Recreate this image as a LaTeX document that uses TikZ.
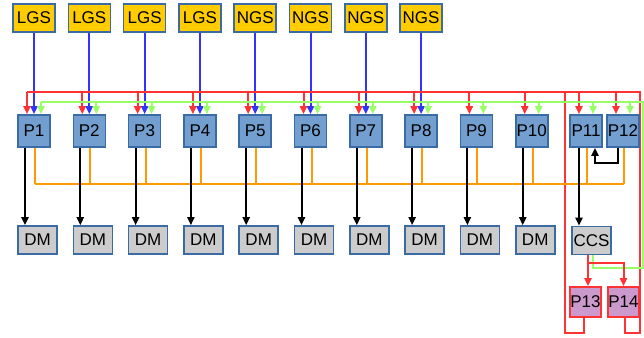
\documentclass[tikz,border=0pt]{standalone}
\usepackage{fontspec}
\setmainfont{Liberation Sans}
\usetikzlibrary{arrows.meta,backgrounds}

\definecolor{gsyel}{HTML}{FFCC00}
\definecolor{boxbl}{HTML}{3A6BA5}
\definecolor{pblue}{HTML}{729FCF}
\definecolor{dmgr}{HTML}{CCCCCC}
\definecolor{ppink}{HTML}{CC99CC}
\definecolor{lred}{HTML}{FF3333}
\definecolor{lgreen}{HTML}{99FF66}
\definecolor{lblue}{HTML}{3333FF}
\definecolor{lorange}{HTML}{FF9900}

\begin{document}
\begin{tikzpicture}[x=1pt,y=-1pt,
    box/.style={draw=boxbl,line width=1.6pt,inner sep=0pt,font=\fontsize{17}{17}\selectfont},
    gs/.style={box,fill=gsyel,minimum width=42pt,minimum height=28pt},
    proc/.style={box,fill=pblue,minimum width=32pt,minimum height=32pt},
    dm/.style={box,fill=dmgr,minimum width=39pt,minimum height=28pt},
    pp/.style={box,draw=lred,fill=ppink,minimum width=31pt,minimum height=30pt},
    wire/.style={line width=2pt},
    tip/.style={-{Triangle[length=8pt,width=7pt]}}]
        \useasboundingbox (0,0) rectangle (644,337);
        % sources
        \foreach \i/\t in {1/LGS,2/LGS,3/LGS,4/LGS,5/NGS,6/NGS,7/NGS,8/NGS}
            \node[gs] (g\i) at ({34+55.3*(\i-1)},18) {\t};
        % processors
        \foreach \i in {1,...,10}
            \node[proc] (p\i) at ({34+55.3*(\i-1)},131) {P\i};
        \node[proc] (p11) at (586,131) {P11};
        \node[proc] (p12) at (623,131) {P12};
        \foreach \i in {1,...,10}
            \node[dm] (d\i) at ({37.5+55.3*(\i-1)},240) {DM};
        \node[dm] (ccs) at (591.5,240.5) {CCS};
        \node[pp] (p13) at (585.5,302) {P13};
        \node[pp] (p14) at (623.5,302) {P14};
        % bus levels
        \coordinate (rtop) at (0,92);
        \coordinate (gtop) at (0,102);
        \coordinate (obus) at (0,184);
        \coordinate (r13) at (565,333);
        \coordinate (r14) at (640,333);
        \coordinate (gr) at (643,268);
        \begin{scope}[on background layer]
        \foreach \i in {1,...,8}
            \draw[wire,lblue,tip] (g\i) -- (p\i);
        % red feedback
        \draw[wire,lred] ([xshift=-2pt]p13.south) |- (r13) -- (r13 |- rtop);
        \draw[wire,lred] ([xshift=1pt]p14.south) |- (r14) -- (r14 |- rtop) -- ([xshift=-7pt]p1.north |- rtop);
        \foreach \i in {1,...,12}
            \draw[wire,lred,tip] ([xshift=-7pt]p\i.north |- rtop) -- ([xshift=-7pt]p\i.north);
        % green feedback
        \draw[wire,lgreen] ([xshift=1pt]ccs.south) |- (gr) -- (gr |- gtop) -- ([xshift=7pt]p1.north |- gtop);
        \foreach \i in {1,...,12}
            \draw[wire,lgreen,tip] ([xshift=7pt]p\i.north |- gtop) -- ([xshift=7pt]p\i.north);
        % orange bus
        \foreach \i in {1,...,12}
            \draw[wire,lorange] ([xshift=1pt]p\i.south) -- ([xshift=1pt]p\i.south |- obus);
        \draw[wire,lorange] ([xshift=1pt]p1.south |- obus) -- ([xshift=1pt]p12.south |- obus);
        % outputs
        \foreach \i in {1,...,10}
            \draw[wire,tip] ([xshift=-9pt]p\i.south) -- ([xshift=-9pt]p\i.south |- d\i.north);
        \draw[wire,tip] ([xshift=-7pt]p11.south) -- ([xshift=-7pt]p11.south |- ccs.north);
        \draw[wire,tip] ([xshift=-5pt]p12.south) -- ++(0,15) -| ([xshift=9pt]p11.south);
        \draw[wire,lred,tip] ([xshift=-3.5pt]ccs.south) -- ([xshift=2.5pt]p13.north);
        \draw[wire,lred,tip] ([xshift=-3.5pt]ccs.south) -- ++(0,8) -| (p14.north);
        \end{scope}
\end{tikzpicture}
\end{document}
